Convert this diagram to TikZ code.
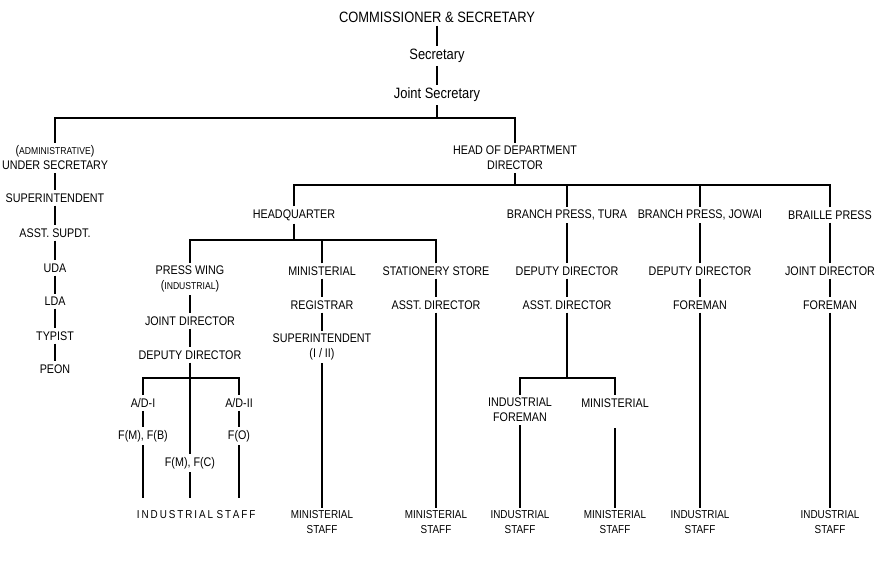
\documentclass[tikz,border=0pt]{standalone}
\usepackage{fontspec}
\setmainfont{Liberation Sans}[FakeStretch=0.86]
\begin{document}
\begin{tikzpicture}[x=1pt,y=-1pt,
  t/.style={inner sep=3pt,align=center,font=\fontsize{12.5}{15}\selectfont},
  big/.style={inner sep=3pt,font=\fontsize{15}{17}\selectfont},
  st/.style={inner sep=2pt,align=center,font=\fontsize{11.5}{15}\selectfont},
  ln/.style={line width=1.1pt}]
\useasboundingbox (0,0) rectangle (880,561);
\newcommand{\sm}[1]{{\fontsize{10}{11}\selectfont #1}}
% top
\node[big] (cs) at (437,17) {COMMISSIONER \& SECRETARY};
\node[big] (sec) at (437,56) {Secretary};
\node[big] (js) at (437,95) {Joint Secretary};
\draw[ln] (cs) -- (sec); \draw[ln] (sec) -- (js);
\coordinate (b1) at (437,118);
\draw[ln] (js) -- (b1);
\node[t] (us) at (55,158) {(\sm{ADMINISTRATIVE})\\UNDER SECRETARY};
\node[t] (hod) at (515,158) {HEAD OF DEPARTMENT\\DIRECTOR};
\draw[ln] (us.north) |- (b1); \draw[ln] (hod.north) |- (b1);
% left chain
\node[t] (sup) at (55,198) {SUPERINTENDENT};
\node[t] (as) at (55,233) {ASST. SUPDT.};
\node[t] (uda) at (55,268) {UDA};
\node[t] (lda) at (55,301) {LDA};
\node[t] (typ) at (55,336) {TYPIST};
\node[t] (peon) at (55,369) {PEON};
\draw[ln] (us) -- (sup); \draw[ln] (sup) -- (as); \draw[ln] (as) -- (uda);
\draw[ln] (uda) -- (lda); \draw[ln] (lda) -- (typ); \draw[ln] (typ) -- (peon);
% director level
\coordinate (b2) at (515,185);
\draw[ln] (hod) -- (b2);
\node[t] (hq) at (294,215) {HEADQUARTER};
\node[t] (tura) at (567,215) {BRANCH PRESS, TURA};
\node[t] (jow) at (700,215) {BRANCH PRESS, JOWAI};
\node[t] (brl) at (830,215) {BRAILLE PRESS};
\draw[ln] (hq.north) |- (b2); \draw[ln] (tura.north) |- (b2);
\draw[ln] (jow.north) |- (b2); \draw[ln] (brl.north) |- (b2);
% headquarter
\coordinate (b3) at (294,240);
\draw[ln] (hq) -- (b3);
\node[t] (pw) at (190,279) {PRESS WING\\(\sm{INDUSTRIAL})};
\node[t] (min) at (322,271) {MINISTERIAL};
\node[t] (ss) at (436,271) {STATIONERY STORE};
\draw[ln] (pw.north) |- (b3); \draw[ln] (min.north) |- (b3); \draw[ln] (ss.north) |- (b3);
% press wing
\node[t] (pjd) at (190,321) {JOINT DIRECTOR};
\node[t] (pdd) at (190,355) {DEPUTY DIRECTOR};
\draw[ln] (pw) -- (pjd); \draw[ln] (pjd) -- (pdd);
\coordinate (b4) at (190,378);
\node[t] (ad1) at (143,403) {A/D-I};
\node[t] (ad2) at (239,403) {A/D-II};
\node[t] (fmb) at (143,436) {F(M), F(B)};
\node[t] (fo) at (239,436) {F(O)};
\node[t] (fmc) at (190,463) {F(M), F(C)};
\draw[ln] (ad1.north) |- (b4) -| (ad2.north);
\draw[ln] (pdd) -- (fmc);
\draw[ln] (ad1) -- (fmb); \draw[ln] (ad2) -- (fo);
\node[st] (ind) at (175,515) {I\,N\,D\,U\,S\,T\,R\,I\,A\,L};
\node[st] (stf) at (236,515) {S\,T\,A\,F\,F};
\coordinate (e1) at (143,498); \coordinate (e2) at (239,498); \coordinate (e3) at (190,498);
\draw[ln] (fmb) -- (e1); \draw[ln] (fo) -- (e2);
\draw[ln] (fmc) -- (e3);
% ministerial
\node[t] (reg) at (322,305) {REGISTRAR};
\node[t] (msup) at (322,347) {SUPERINTENDENT\\(I / II)};
\node[st] (ms1) at (322,522) {MINISTERIAL\\STAFF};
\draw[ln] (min) -- (reg); \draw[ln] (reg) -- (msup); \draw[ln] (msup) -- (ms1);
% stationery
\node[t] (sad) at (436,305) {ASST. DIRECTOR};
\node[st] (ms2) at (436,522) {MINISTERIAL\\STAFF};
\draw[ln] (ss) -- (sad); \draw[ln] (sad) -- (ms2);
% tura
\node[t] (tdd) at (567,271) {DEPUTY DIRECTOR};
\node[t] (tad) at (567,305) {ASST. DIRECTOR};
\draw[ln] (tura) -- (tdd); \draw[ln] (tdd) -- (tad);
\coordinate (b5) at (567,378);
\draw[ln] (tad) -- (b5);
\node[t] (tif) at (520,410) {INDUSTRIAL\\FOREMAN};
\node[t] (tmin) at (615,403) {MINISTERIAL};
\draw[ln] (tif.north) |- (b5) -| (tmin.north);
\node[st] (is1) at (520,522) {INDUSTRIAL\\STAFF};
\node[st] (ms3) at (615,522) {MINISTERIAL\\STAFF};
\coordinate (m3) at (615,428);
\draw[ln] (tif) -- (is1); \draw[ln] (m3) -- (ms3);
% jowai
\node[t] (jdd) at (700,271) {DEPUTY DIRECTOR};
\node[t] (jfm) at (700,305) {FOREMAN};
\node[st] (is2) at (700,522) {INDUSTRIAL\\STAFF};
\draw[ln] (jow) -- (jdd); \draw[ln] (jdd) -- (jfm); \draw[ln] (jfm) -- (is2);
% braille
\node[t] (bjd) at (830,271) {JOINT DIRECTOR};
\node[t] (bfm) at (830,305) {FOREMAN};
\node[st] (is3) at (830,522) {INDUSTRIAL\\STAFF};
\draw[ln] (brl) -- (bjd); \draw[ln] (bjd) -- (bfm); \draw[ln] (bfm) -- (is3);
\end{tikzpicture}
\end{document}
